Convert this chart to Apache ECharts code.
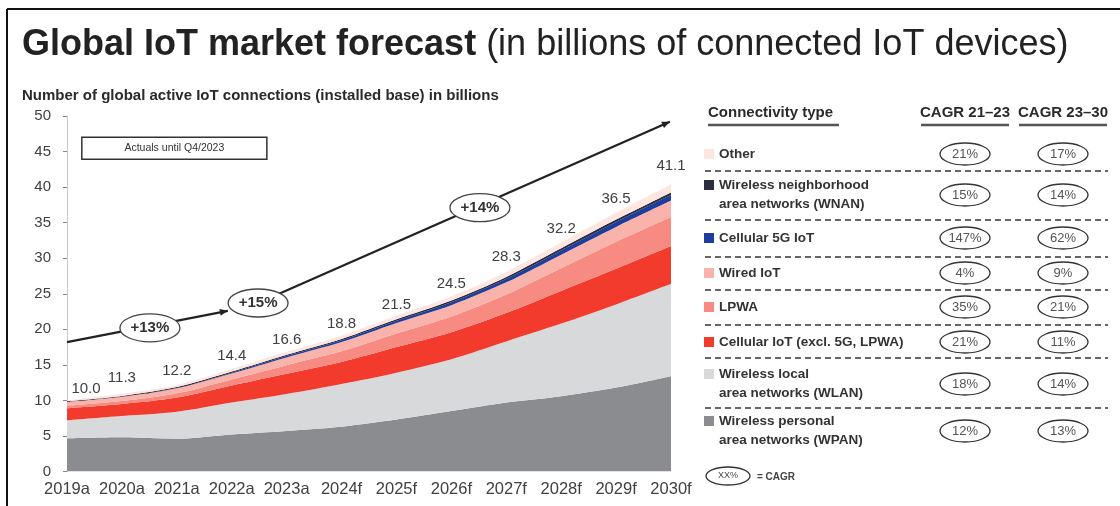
<!DOCTYPE html>
<html>
<head>
<meta charset="utf-8">
<script src="https://cdn.jsdelivr.net/npm/echarts@6/dist/echarts.min.js"></script>
<style>
html,body{margin:0;padding:0;background:#fff;}
#c{width:1120px;height:506px;}
</style>
</head>
<body>
<div id="c"></div>
<script>
// ---- data ----
const years = ['2019a','2020a','2021a','2022a','2023a','2024f','2025f','2026f','2027f','2028f','2029f','2030f'];
const totals = [10.0, 11.3, 12.2, 14.4, 16.6, 18.8, 21.5, 24.5, 28.3, 32.2, 36.5, 41.1];
const wpan     = [4.65, 4.8, 4.6, 5.2, 5.7, 6.3, 7.3, 8.5, 9.7, 10.6, 11.8, 13.4];
const wlan     = [2.55, 3.0, 3.8, 4.5, 5.2, 6.0, 6.6, 7.3, 8.6, 10.2, 11.7, 13.0];
const cellular = [1.7, 1.7, 2.0, 2.4, 2.85, 3.1, 3.6, 3.8, 4.0, 4.6, 5.0, 5.3];
const lpwa     = [0.35, 0.4, 0.6, 0.85, 1.2, 1.5, 1.9, 2.2, 2.6, 3.2, 3.8, 4.1];
const wired    = [0.55, 0.6, 0.7, 0.85, 1.1, 1.3, 1.5, 1.6, 1.7, 1.9, 2.1, 2.3];
const cell5g   = [0.0, 0.01, 0.03, 0.1, 0.2, 0.25, 0.3, 0.4, 0.5, 0.6, 0.7, 0.8];
const wnan     = [0.1, 0.12, 0.14, 0.16, 0.18, 0.2, 0.22, 0.25, 0.27, 0.3, 0.33, 0.35];
const other    = [0.1, 0.3, 0.3, 0.35, 0.4, 0.45, 0.5, 0.6, 0.7, 0.8, 0.95, 1.1];

const yTicks = [0, 5, 10, 15, 20, 25, 30, 35, 40, 45, 50];

// table (top to bottom)
const typeNames = ['Other', 'Wireless neighborhood\narea networks (WNAN)', 'Cellular 5G IoT', 'Wired IoT', 'LPWA',
  'Cellular IoT (excl. 5G, LPWA)', 'Wireless local\narea networks (WLAN)', 'Wireless personal\narea networks (WPAN)'];
const cagr2123 = ['21%', '15%', '147%', '4%', '35%', '21%', '18%', '12%'];
const cagr2330 = ['17%', '14%', '62%', '9%', '21%', '11%', '14%', '13%'];

// growth annotations
const growthLabels = ['+13%', '+15%', '+14%'];
const actualsNote = 'Actuals until Q4/2023';

// ---- styles ----
const colors = {
  wpan: '#8b8c90', wlan: '#d8d9db', cellular: '#f23a2d', lpwa: '#f78a81',
  wired: '#f9b3ab', cell5g: '#1f3d9e', wnan: '#2b2d40', other: '#fde5e0'
};
const rowColors = [colors.other, colors.wnan, colors.cell5g, colors.wired, colors.lpwa, colors.cellular, colors.wlan, colors.wpan];
const FONT = '"Liberation Sans", Arial, sans-serif';

const chart = echarts.init(document.getElementById('c'), null, {renderer: 'canvas'});

function areaSeries(name, data, color) {
  return {
    name: name, type: 'line', stack: 'total', data: data, smooth: 0.3,
    symbol: 'none', lineStyle: {width: 0}, areaStyle: {color: color, opacity: 1},
    itemStyle: {color: color}, silent: true, z: 2
  };
}

const option = {
  animation: false,
  backgroundColor: '#fff',
  title: [{
    text: '{b|Global IoT market forecast}{n| (in billions of connected IoT devices)}',
    left: 17, top: 22,
    textStyle: {
      rich: {
        b: {fontFamily: FONT, fontWeight: 'bold', fontSize: 36, color: '#222'},
        n: {fontFamily: FONT, fontWeight: 'normal', fontSize: 36, color: '#222'}
      }
    }
  }, {
    text: 'Number of global active IoT connections (installed base) in billions',
    left: 17, top: 83,
    textStyle: {fontFamily: FONT, fontWeight: 'bold', fontSize: 15, color: '#2a2a2a'}
  }],
  grid: {left: 67, right: 449, top: 116, bottom: 34.5},
  xAxis: {
    type: 'category', data: years, boundaryGap: false,
    axisLine: {show: false}, axisTick: {show: false},
    axisLabel: {fontFamily: FONT, fontSize: 16.5, color: '#404040', margin: 9, interval: 0, hideOverlap: false}
  },
  yAxis: {
    type: 'value', min: yTicks[0], max: yTicks[yTicks.length - 1], interval: 5,
    splitLine: {show: false},
    axisLine: {show: true, lineStyle: {color: '#c8c8c8', width: 1}},
    axisTick: {show: true, length: 4, lineStyle: {color: '#888'}},
    axisLabel: {fontFamily: FONT, fontSize: 15, color: '#404040', margin: 16}
  },
  series: [
    areaSeries('WPAN', wpan, colors.wpan),
    areaSeries('WLAN', wlan, colors.wlan),
    areaSeries('Cellular IoT', cellular, colors.cellular),
    areaSeries('LPWA', lpwa, colors.lpwa),
    areaSeries('Wired IoT', wired, colors.wired),
    areaSeries('Cellular 5G IoT', cell5g, colors.cell5g),
    areaSeries('WNAN', wnan, colors.wnan),
    areaSeries('Other', other, colors.other),
    {
      name: 'Total', type: 'line',
      data: totals,
      symbol: 'circle', symbolSize: 2, showSymbol: true,
      itemStyle: {color: 'rgba(0,0,0,0)'},
      lineStyle: {width: 0, opacity: 0}, silent: true, z: 5,
      label: {
        show: true, position: 'top', distance: 5,
        fontFamily: FONT, fontSize: 15, color: '#404040',
        formatter: p => Number(p.value).toFixed(1)
      },
      labelLayout: p => (p.dataIndex === 0 ? {dx: 19, dy: 2, hideOverlap: false} : {hideOverlap: false})
    }
  ]
};
chart.setOption(option);

// ---- annotations & table ----
function P(i, v) {
  const a = chart.convertToPixel({gridIndex: 0}, [0, v]);
  const b = chart.convertToPixel({gridIndex: 0}, [1, v]);
  return [a[0] + (b[0] - a[0]) * i, a[1]];
}
function arrowHead(p0, p1, len, wid) {
  const dx = p1[0] - p0[0], dy = p1[1] - p0[1];
  const L = Math.sqrt(dx * dx + dy * dy);
  const ux = dx / L, uy = dy / L;
  const bx = p1[0] - ux * len, by = p1[1] - uy * len;
  return {
    type: 'polygon', z: 20,
    shape: {points: [p1, [bx - uy * wid, by + ux * wid], [bx + uy * wid, by - ux * wid]]},
    style: {fill: '#222'}
  };
}
const g = [];
// arrows
const l1a = P(0, 18.2), l1b = P(2.93, 22.6);
const l2a = P(3.48, 23.7), l2b = P(10.98, 49.2);
g.push({type: 'line', z: 19, shape: {x1: l1a[0], y1: l1a[1], x2: l1b[0], y2: l1b[1]}, style: {stroke: '#222', lineWidth: 2.2}});
g.push(arrowHead(l1a, l1b, 8, 3.5));
g.push({type: 'line', z: 19, shape: {x1: l2a[0], y1: l2a[1], x2: l2b[0], y2: l2b[1]}, style: {stroke: '#222', lineWidth: 2.2}});
g.push(arrowHead(l2a, l2b, 8, 3.5));
// growth ellipses
const gpos = [P(1.51, 20.2), P(3.48, 23.7), P(7.52, 37.1)];
gpos.forEach((p, k) => {
  g.push({type: 'ellipse', z: 21, shape: {cx: p[0], cy: p[1], rx: 30, ry: 14}, style: {fill: '#fff', stroke: '#444', lineWidth: 1.3}});
  g.push({type: 'text', z: 22, x: p[0], y: p[1], style: {text: growthLabels[k], fontFamily: FONT, fontWeight: 'bold', fontSize: 15, fill: '#333', align: 'center', verticalAlign: 'middle'}});
});
// actuals box
const b0 = P(0.27, 47.0), b1 = P(3.64, 43.9);
g.push({type: 'rect', z: 21, shape: {x: b0[0], y: b0[1], width: b1[0] - b0[0], height: b1[1] - b0[1]}, style: {fill: '#fff', stroke: '#333', lineWidth: 1.5}});
g.push({type: 'text', z: 22, x: (b0[0] + b1[0]) / 2, y: (b0[1] + b1[1]) / 2, style: {text: actualsNote, fontFamily: FONT, fontSize: 10.5, fill: '#333', align: 'center', verticalAlign: 'middle'}});

// frame
g.push({type: 'line', z: 30, shape: {x1: 7, y1: 9, x2: 1120, y2: 9}, style: {stroke: '#111', lineWidth: 2}});
g.push({type: 'line', z: 30, shape: {x1: 7, y1: 9, x2: 7, y2: 506}, style: {stroke: '#111', lineWidth: 2}});

// table headers
const hdrY = 113;
const headers = [
  {t: 'Connectivity type', x: 708, w: 131, align: 'left'},
  {t: 'CAGR 21\u201323', x: 965, w: 88, align: 'center'},
  {t: 'CAGR 23\u201330', x: 1063, w: 88, align: 'center'}
];
headers.forEach(h => {
  g.push({type: 'text', z: 22, x: h.x, y: hdrY, style: {text: h.t, fontFamily: FONT, fontWeight: 'bold', fontSize: 15, fill: '#2a2a2a', align: h.align, verticalAlign: 'middle'}});
  const x0 = h.align === 'left' ? h.x : h.x - h.w / 2;
  g.push({type: 'line', z: 22, shape: {x1: x0, y1: hdrY + 12, x2: x0 + h.w, y2: hdrY + 12}, style: {stroke: '#555', lineWidth: 2.5}});
});
// rows
const rowY = [154, 195, 238, 273, 307, 342, 384, 431];
const sepY = [171, 220, 257, 290, 325, 358, 408];
typeNames.forEach((name, k) => {
  const twoLine = name.indexOf('\n') >= 0;
  const iconY = twoLine ? rowY[k] - 10 : rowY[k];
  g.push({type: 'rect', z: 22, shape: {x: 704, y: iconY - 5, width: 10, height: 10}, style: {fill: rowColors[k]}});
  g.push({type: 'text', z: 22, x: 719, y: rowY[k], style: {text: name, fontFamily: FONT, fontWeight: 'bold', fontSize: 13.5, lineHeight: 19, fill: '#333', align: 'left', verticalAlign: 'middle'}});
  [[965, cagr2123[k]], [1063, cagr2330[k]]].forEach(c => {
    g.push({type: 'ellipse', z: 22, shape: {cx: c[0], cy: rowY[k], rx: 25, ry: 11}, style: {fill: '#fff', stroke: '#333', lineWidth: 1.3}});
    g.push({type: 'text', z: 23, x: c[0], y: rowY[k], style: {text: c[1], fontFamily: FONT, fontSize: 13, fill: '#555', align: 'center', verticalAlign: 'middle'}});
  });
});
sepY.forEach(y => {
  g.push({type: 'line', z: 22, shape: {x1: 705, y1: y, x2: 1108, y2: y}, style: {stroke: '#666', lineWidth: 2, lineDash: [6, 4]}});
});
// CAGR key
g.push({type: 'ellipse', z: 22, shape: {cx: 728, cy: 476, rx: 22, ry: 9}, style: {fill: '#fff', stroke: '#333', lineWidth: 1.3}});
g.push({type: 'text', z: 23, x: 728, y: 476, style: {text: 'XX%', fontFamily: FONT, fontSize: 9, fill: '#444', align: 'center', verticalAlign: 'middle'}});
g.push({type: 'text', z: 23, x: 757, y: 477, style: {text: '= CAGR', fontFamily: FONT, fontWeight: 'bold', fontSize: 10, fill: '#444', align: 'left', verticalAlign: 'middle'}});

chart.setOption({graphic: {elements: g}});
</script>
</body>
</html>
